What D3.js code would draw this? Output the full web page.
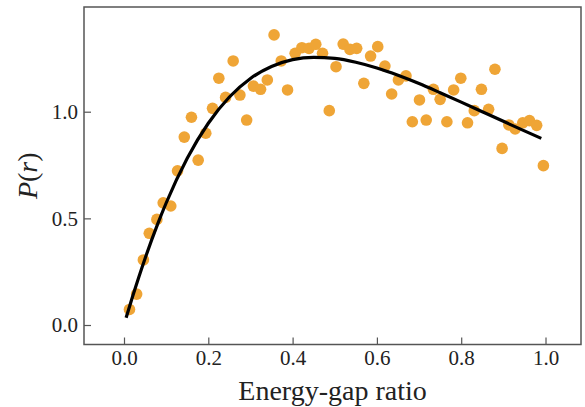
<!DOCTYPE html>
<html>
<head>
<meta charset="utf-8">
<script src="https://cdn.jsdelivr.net/npm/d3@7"></script>
<style>
  html, body { margin: 0; padding: 0; background: #fff; }
  svg { display: block; }
</style>
</head>
<body>
<svg id="chart" width="585" height="407"></svg>
<script>
// ---- data ----
const pointR = [0.013,0.030,0.046,0.060,0.078,0.093,0.111,0.127,0.143,0.160,0.176,0.194,0.210,0.225,0.241,0.259,0.275,0.291,0.307,0.324,0.340,0.356,0.373,0.388,0.406,0.422,0.439,0.455,0.471,0.487,0.503,0.520,0.536,0.552,0.569,0.585,0.602,0.619,0.635,0.651,0.669,0.684,0.701,0.717,0.734,0.750,0.766,0.782,0.799,0.815,0.831,0.848,0.865,0.880,0.897,0.913,0.928,0.946,0.962,0.979,0.995];
const pointP = [0.073,0.145,0.305,0.430,0.495,0.573,0.558,0.723,0.881,0.974,0.773,0.899,1.016,1.157,1.067,1.238,1.078,0.961,1.120,1.105,1.149,1.360,1.238,1.102,1.274,1.300,1.297,1.316,1.274,1.005,1.211,1.317,1.292,1.297,1.133,1.261,1.305,1.214,1.083,1.149,1.168,0.953,1.055,0.961,1.105,1.058,0.953,1.102,1.157,0.948,1.005,1.105,1.011,1.199,0.828,0.938,0.919,0.948,0.958,0.936,0.747];
const curveR = [0.005,0.02,0.05,0.08,0.10,0.15,0.20,0.25,0.30,0.35,0.40,0.45,0.50,0.55,0.60,0.65,0.70,0.75,0.80,0.85,0.90,0.95,0.99];
const curveP = [0.034,0.131,0.312,0.474,0.572,0.782,0.946,1.069,1.156,1.212,1.244,1.255,1.250,1.232,1.205,1.171,1.132,1.089,1.045,1.000,0.955,0.910,0.875];
const xTicks = [0.0, 0.2, 0.4, 0.6, 0.8, 1.0];
const yTicks = [0.0, 0.5, 1.0];
const xLabel = "Energy-gap ratio";

// ---- pick an installed serif font ----
function pickFont(cands) {
  const c = document.createElement("canvas").getContext("2d");
  const s = "Energy-gap ratio 0.123456789 P(r)";
  const bases = ["monospace", "sans-serif"];
  const bw = bases.map(b => { c.font = `72px ${b}`; return c.measureText(s).width; });
  for (const f of cands) {
    const ok = bases.some((b, i) => { c.font = `72px "${f}", ${b}`; return Math.abs(c.measureText(s).width - bw[i]) > 0.5; });
    if (ok) return `"${f}"`;
  }
  return "serif";
}
const FONT = pickFont(["Liberation Serif", "Times New Roman", "Tinos", "Times", "DejaVu Serif", "Noto Serif", "FreeSerif", "Nimbus Roman"]) + ", serif";

// ---- layout ----
const svg = d3.select("#chart");
const L = 84, R = 581, T = 7, B = 344.5;
const x = d3.scaleLinear().domain([-0.0949, 1.0842]).range([L, R]);
const y = d3.scaleLinear().domain([-0.0914, 1.4909]).range([B, T]);

const dotColor = "#efa536";
const spineColor = "#555555";

// points
svg.append("g").selectAll("circle")
  .data(pointR.map((r, i) => ({r, p: pointP[i]})))
  .join("circle")
  .attr("cx", d => x(d.r))
  .attr("cy", d => y(d.p))
  .attr("r", 5.8)
  .attr("fill", dotColor);

// curve
const line = d3.line()
  .x(d => x(d[0]))
  .y(d => y(d[1]))
  .curve(d3.curveMonotoneX);
svg.append("path")
  .datum(curveR.map((r, i) => [r, curveP[i]]))
  .attr("d", line)
  .attr("fill", "none")
  .attr("stroke", "#000")
  .attr("stroke-width", 3.2);

// axes
const xAxis = svg.append("g")
  .attr("transform", `translate(0,${B})`)
  .call(d3.axisBottom(x).tickValues(xTicks).tickFormat(d3.format(".1f"))
    .tickSizeInner(-7).tickSizeOuter(0).tickPadding(6));
const yAxis = svg.append("g")
  .attr("transform", `translate(${L},0)`)
  .call(d3.axisLeft(y).tickValues(yTicks).tickFormat(d3.format(".1f"))
    .tickSizeInner(-7).tickSizeOuter(0).tickPadding(6));
[xAxis, yAxis].forEach(g => {
  g.select(".domain").remove();
  g.attr("font-family", null).attr("font-size", null);
  g.selectAll(".tick line").attr("stroke", spineColor).attr("stroke-width", 1.2);
  g.selectAll(".tick text")
    .attr("fill", "#222")
    .style("font-family", FONT)
    .style("font-size", "21px");
});

// frame (spines)
svg.append("rect")
  .attr("x", L).attr("y", T)
  .attr("width", R - L).attr("height", B - T)
  .attr("fill", "none")
  .attr("stroke", spineColor)
  .attr("stroke-width", 1.5);

// x label
svg.append("text")
  .attr("x", (L + R) / 2)
  .attr("y", 400)
  .attr("text-anchor", "middle")
  .attr("fill", "#222")
  .style("font-family", FONT)
  .style("font-size", "28px")
  .text(xLabel);

// y label
const yl = svg.append("text")
  .attr("transform", `translate(37,${(T + B) / 2}) rotate(-90)`)
  .attr("text-anchor", "middle")
  .attr("fill", "#222")
  .style("font-family", FONT)
  .style("font-size", "28px");
yl.append("tspan").style("font-style", "italic").text("P");
yl.append("tspan").text("(");
yl.append("tspan").style("font-style", "italic").text("r");
yl.append("tspan").text(")");
</script>
</body>
</html>
